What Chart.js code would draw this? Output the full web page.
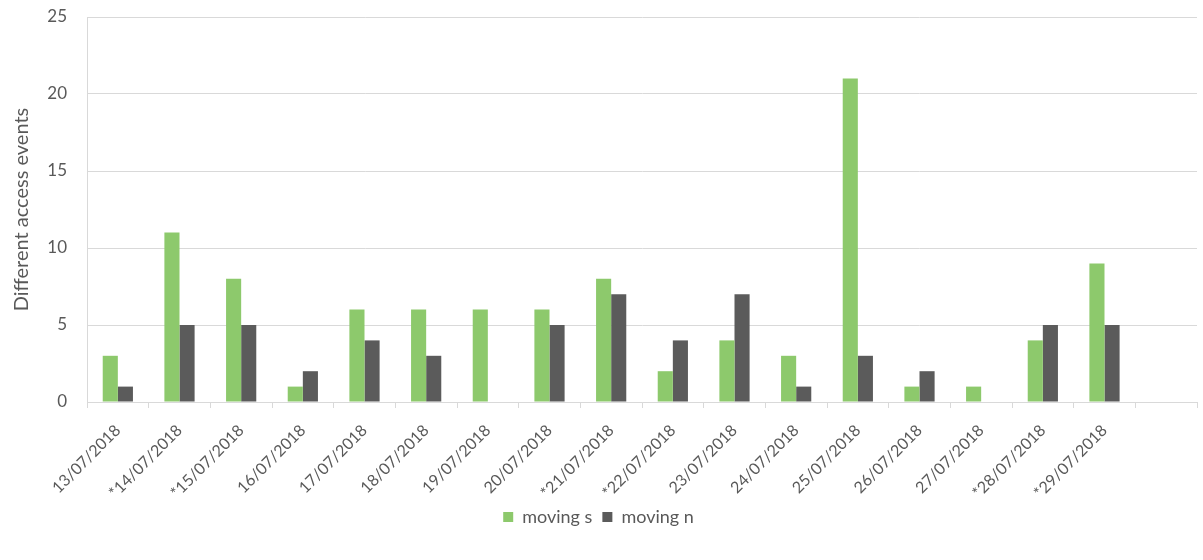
<!DOCTYPE html>
<html>
<head>
<meta charset="utf-8">
<script src="https://cdn.jsdelivr.net/npm/chart.js@4/dist/chart.umd.min.js"></script>
<style>
  html, body { margin: 0; padding: 0; background: #ffffff; }
  #wrap { width: 1203px; height: 560px; position: relative; }
</style>
</head>
<body>
<div id="wrap"><canvas id="c"></canvas></div>
<script>
const categories = ['13/07/2018', '*14/07/2018', '*15/07/2018', '16/07/2018', '17/07/2018', '18/07/2018', '19/07/2018', '20/07/2018', '*21/07/2018', '*22/07/2018', '23/07/2018', '24/07/2018', '25/07/2018', '26/07/2018', '27/07/2018', '*28/07/2018', '*29/07/2018', ''];
const movingS = [3, 11, 8, 1, 6, 6, 6, 6, 8, 2, 4, 3, 21, 1, 1, 4, 9, null];
const movingN = [1, 5, 5, 2, 4, 3, 0, 5, 7, 4, 7, 1, 3, 2, 0, 5, 5, null];
const yTicks = [0, 5, 10, 15, 20, 25];

const FONT = 'Lato, "Open Sans", sans-serif';
const TXT = '#595959';

new Chart(document.getElementById('c'), {
  type: 'bar',
  data: {
    labels: categories,
    datasets: [
      { label: 'moving s', data: movingS, backgroundColor: '#8dc96c', borderWidth: 0,
        categoryPercentage: 0.49, barPercentage: 1.0 },
      { label: 'moving n', data: movingN, backgroundColor: '#5b5b5b', borderWidth: 0,
        categoryPercentage: 0.49, barPercentage: 1.0 }
    ]
  },
  options: {
    responsive: true,
    maintainAspectRatio: false,
    animation: false,
    devicePixelRatio: 1,
    layout: { padding: { left: 0, right: 6, top: 17, bottom: 24 } },
    plugins: {
      legend: {
        position: 'bottom',
        labels: { font: { family: FONT, size: 18 }, color: TXT, boxWidth: 10, boxHeight: 10, padding: 10 }
      },
      tooltip: { enabled: false }
    },
    scales: {
      x: {
        offset: true,
        grid: { display: true, drawOnChartArea: false, drawTicks: true, tickLength: 6, color: '#d9d9d9', offset: true },
        border: { display: true, color: '#d9d9d9' },
        ticks: { font: { family: FONT, size: 16 }, color: TXT, maxRotation: 45, minRotation: 45, autoSkip: false, padding: 13 },
        afterFit: (s) => { s.height = 96; s.paddingLeft = 0; s.paddingRight = 0; }
      },
      y: {
        min: 0, max: 25,
        afterBuildTicks: (s) => { s.ticks = yTicks.map(v => ({ value: v })); },
        grid: { color: '#d9d9d9', drawTicks: false },
        border: { display: true, color: '#d9d9d9' },
        ticks: { font: { family: FONT, size: 17 }, color: TXT, padding: 20 },
        title: { display: true, text: 'Different access events', font: { family: FONT, size: 20 }, color: TXT, padding: { top: 10, bottom: 4 } },
        afterFit: (s) => { s.width = 87; s.paddingTop = 0; s.paddingBottom = 0; }
      }
    }
  }
});
</script>
</body>
</html>
